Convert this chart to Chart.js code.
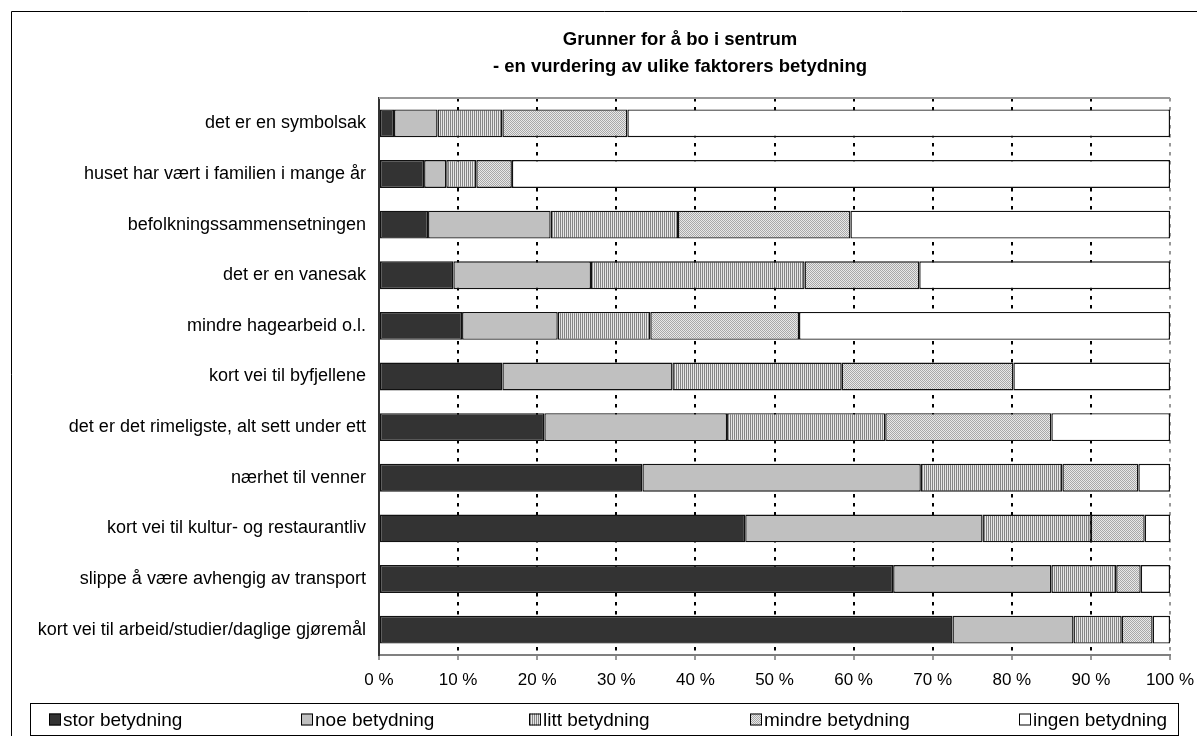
<!DOCTYPE html>
<html><head><meta charset="utf-8">
<script src="https://cdn.jsdelivr.net/npm/chart.js@4.4.0/dist/chart.umd.min.js"></script>
<style>html,body{margin:0;padding:0;background:#fff;} #wrap{width:1197px;height:736px;position:relative;}</style>
</head><body><div id="wrap"><canvas id="c" width="1197" height="736"></canvas></div>
<script>
const categories = [
  "det er en symbolsak",
  "huset har vært i familien i mange år",
  "befolkningssammensetningen",
  "det er en vanesak",
  "mindre hagearbeid o.l.",
  "kort vei til byfjellene",
  "det er det rimeligste, alt sett under ett",
  "nærhet til venner",
  "kort vei til kultur- og restaurantliv",
  "slippe å være avhengig av transport",
  "kort vei til arbeid/studier/daglige gjøremål"
];
const seriesNames = ["stor betydning", "noe betydning", "litt betydning", "mindre betydning", "ingen betydning"];
const storBetydning   = [1.9, 5.7, 6.2, 9.4, 10.5, 15.6, 20.9, 33.3, 46.3, 65.0, 72.5];
const noeBetydning    = [5.5, 2.8, 15.5, 17.4, 12.1, 21.5, 23.1, 35.2, 30.0, 20.0, 15.3];
const littBetydning   = [8.2, 3.8, 16.1, 27.0, 11.7, 21.4, 20.0, 17.9, 13.7, 8.2, 6.1];
const mindreBetydning = [15.8, 4.5, 21.8, 14.5, 18.8, 21.7, 21.0, 9.6, 6.8, 3.1, 3.9];
const ingenBetydning  = [68.6, 83.2, 40.4, 31.7, 46.9, 19.8, 15.0, 4.0, 3.2, 3.7, 2.2];
const xTickValues = [0, 10, 20, 30, 40, 50, 60, 70, 80, 90, 100];
const titleLines = ["Grunner for å bo i sentrum", "- en vurdering av ulike faktorers betydning"];

const FONT = '"Liberation Sans", Arial, sans-serif';
const canvas = document.getElementById('c');
const ctx0 = canvas.getContext('2d');
function makePattern(w, h, draw) {
  const c = document.createElement('canvas'); c.width = w; c.height = h;
  draw(c.getContext('2d'));
  return ctx0.createPattern(c, 'repeat');
}
const stripes = makePattern(2, 1, g => { g.fillStyle = '#e6e6e6'; g.fillRect(0, 0, 2, 1); g.fillStyle = '#858585'; g.fillRect(0, 0, 1, 1); });
const dots = makePattern(2, 2, g => { g.fillStyle = '#e8e8e8'; g.fillRect(0, 0, 2, 2); g.fillStyle = '#a8a8a8'; g.fillRect(0, 0, 1, 1); g.fillRect(1, 1, 1, 1); });
const fills = ['#333333', '#c0c0c0', stripes, dots, '#ffffff'];
const seriesData = [storBetydning, noeBetydning, littBetydning, mindreBetydning, ingenBetydning];

const frameAndLegend = {
  id: 'frameAndLegend',
  afterLayout(chart) {
    const t = chart.titleBlock;
    if (t) { t.left = 190; t.right = 1170; t.width = 980; }
  },
  afterDraw(chart) {
    const c = chart.ctx, a = chart.chartArea;
    c.save();
    c.strokeStyle = '#999'; c.lineWidth = 2;
    c.beginPath(); c.moveTo(a.left, a.top); c.lineTo(a.right, a.top); c.stroke();
    c.strokeStyle = '#000'; c.lineWidth = 1;
    c.beginPath(); c.moveTo(11.5, 740); c.lineTo(11.5, 11.5); c.lineTo(1200, 11.5); c.stroke();
    c.strokeRect(30.5, 703.5, 1148, 32);
    const xs = [49, 301, 529, 750, 1019];
    const cy = 719.5;
    c.font = '19px ' + FONT; c.textBaseline = 'middle'; c.textAlign = 'left';
    chart.data.datasets.forEach((ds, i) => {
      c.fillStyle = ds.backgroundColor;
      c.fillRect(xs[i], cy - 6, 12, 12);
      c.strokeStyle = '#000'; c.lineWidth = 1;
      c.strokeRect(xs[i] + 0.5, cy - 5.5, 11, 11);
      c.fillStyle = '#000';
      c.fillText(ds.label, xs[i] + 14, cy + 1);
    });
    c.restore();
  }
};

new Chart(canvas, {
  type: 'bar',
  data: {
    labels: categories,
    datasets: seriesNames.map((n, i) => ({
      label: n, data: seriesData[i], backgroundColor: fills[i],
      borderColor: '#111', borderWidth: 1.4, borderSkipped: false,
      barPercentage: 0.55, categoryPercentage: 1
    }))
  },
  options: {
    responsive: false, animation: false, indexAxis: 'y',
    layout: { padding: { left: 0, right: 27, top: 12, bottom: 41 } },
    plugins: {
      legend: { display: false },
      tooltip: { enabled: false },
      title: {
        display: true, text: titleLines, color: '#000',
        font: { family: FONT, size: 18.5, weight: 'bold', lineHeight: 1.46 },
        padding: { top: 14.5, bottom: 17.5 }
      }
    },
    scales: {
      x: {
        stacked: true, min: 0, max: 100,
        afterBuildTicks: s => { s.ticks = xTickValues.map(v => ({ value: v })); },
        afterFit: s => { s.height = 40; s.paddingLeft = 0; s.paddingRight = 0; },
        ticks: { callback: v => v + ' %', color: '#000', font: { family: FONT, size: 17 }, padding: 10, maxRotation: 0 },
        grid: {
          color: c => c.tick && c.tick.value === 0 ? 'rgba(0,0,0,0)' : (c.tick && c.tick.value === 100 ? '#999' : '#000'),
          lineWidth: 2, drawTicks: true, tickLength: 5, tickColor: '#333', tickWidth: 1, tickBorderDash: []
        },
        border: { display: true, color: '#808080', width: 2, dash: [3.5, 5.5] }
      },
      y: {
        stacked: true,
        afterFit: s => { s.width = 379; },
        ticks: { color: '#000', font: { family: FONT, size: 18 }, padding: 13 },
        grid: { display: false, drawTicks: false },
        border: { display: true, color: '#333', width: 2 }
      }
    }
  },
  plugins: [frameAndLegend]
});
</script></body></html>
